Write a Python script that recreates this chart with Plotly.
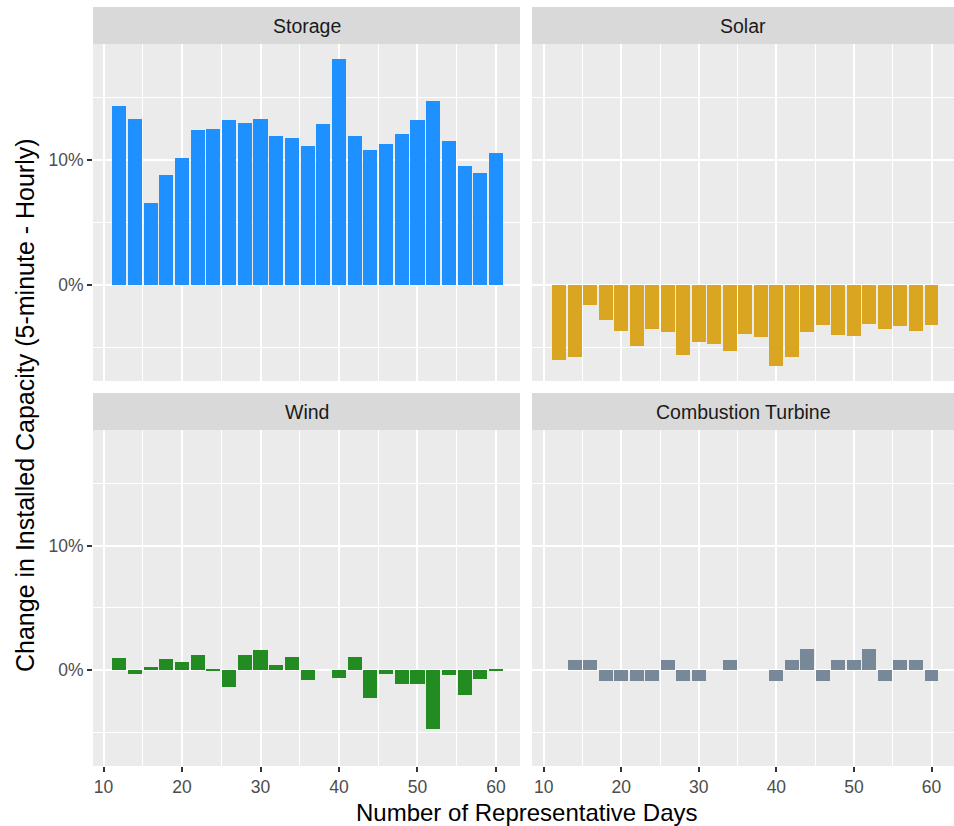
import plotly.graph_objects as go

# ---- data ----
days = [12, 14, 16, 18, 20, 22, 24, 26, 28, 30, 32, 34, 36, 38, 40,
        42, 44, 46, 48, 50, 52, 54, 56, 58, 60]

storage = [14.3, 13.3, 6.6, 8.8, 10.2, 12.4, 12.5, 13.2, 13.0, 13.3, 11.9, 11.8, 11.1,
           12.9, 18.1, 11.9, 10.8, 11.3, 12.1, 13.2, 14.7, 11.5, 9.5, 9.0, 10.6]
solar = [-6.0, -5.8, -1.6, -2.8, -3.7, -4.9, -3.5, -3.8, -5.6, -4.6, -4.7, -5.3, -3.9,
         -4.2, -6.5, -5.8, -3.8, -3.2, -4.0, -4.1, -3.1, -3.5, -3.3, -3.7, -3.2]
wind = [0.97, -0.32, 0.29, 0.91, 0.67, 1.21, 0.03, -1.34, 1.18, 1.61, 0.38, 1.07, -0.75,
        0.0, -0.64, 1.07, -2.25, -0.32, -1.10, -1.10, -4.69, -0.40, -1.96, -0.72, 0.13]
combustion = [0.0, 0.85, 0.85, -0.85, -0.85, -0.85, -0.85, 0.85, -0.85, -0.85, 0.0, 0.85, 0.0,
              0.0, -0.85, 0.85, 1.7, -0.85, 0.85, 0.85, 1.7, -0.85, 0.85, 0.85, -0.85]

panels = ["Storage", "Solar", "Wind", "Combustion Turbine"]
colors = ["#1E90FF", "#DAA520", "#228B22", "#778899"]
series = [storage, solar, wind, combustion]

y_tickvals = [0, 10]
y_ticktext = ["0%", "10%"]
x_tickvals = [10, 20, 30, 40, 50, 60]

# ---- layout geometry (paper fractions) ----
W, H = 954, 826
ml, mr, mt, mb = 93, 0, 7, 60
pw, ph = W - ml - mr, H - mt - mb

def px_x(p):
    return (p - ml) / pw

def px_y(p):
    return (H - mb - p) / ph

xdoms = [[px_x(93), px_x(520)], [px_x(532), px_x(954)]]
xranges = [[8.66, 63.06], [8.5, 62.9]]
ydoms = [[px_y(381), px_y(44)], [px_y(766), px_y(430)]]
strip_tops = [px_y(7), px_y(393)]

FONT = "Liberation Sans, Arial, sans-serif"

fig = go.Figure()
for i, (name, col, vals) in enumerate(zip(panels, colors, series)):
    suffix = "" if i == 0 else str(i + 1)
    fig.add_trace(go.Bar(x=days, y=vals, width=1.8, marker=dict(color=col, line=dict(width=0)),
                         xaxis="x" + suffix, yaxis="y" + suffix, name=name, showlegend=False))

layout = dict(
    width=W, height=H,
    margin=dict(l=ml, r=mr, t=mt, b=mb),
    paper_bgcolor="white", plot_bgcolor="#EBEBEB",
    font=dict(family=FONT, color="#4D4D4D"),
    bargap=0,
    shapes=[], annotations=[],
)

for i in range(4):
    r, c = divmod(i, 2)
    suffix = "" if i == 0 else str(i + 1)
    bottom = r == 1
    left = c == 0
    layout["xaxis" + suffix] = dict(
        domain=xdoms[c], anchor="y" + suffix, range=xranges[c],
        tickvals=x_tickvals, showticklabels=bottom,
        ticks="outside" if bottom else "", ticklen=5, tickwidth=1.5, tickcolor="#333333",
        tickfont=dict(size=17.5, color="#4D4D4D"),
        showgrid=True, gridcolor="white", gridwidth=1.6, zeroline=False, showline=False,
        minor=dict(tickvals=[15, 25, 35, 45, 55], showgrid=True, gridcolor="white", gridwidth=0.8, ticks=""),
        fixedrange=True,
    )
    layout["yaxis" + suffix] = dict(
        domain=ydoms[r], anchor="x" + suffix, range=[-7.7, 19.3],
        tickvals=y_tickvals, ticktext=y_ticktext, showticklabels=left,
        ticks="outside" if left else "", ticklen=5, tickwidth=1.5, tickcolor="#333333",
        tickfont=dict(size=17.5, color="#4D4D4D"),
        showgrid=True, gridcolor="white", gridwidth=1.6, zeroline=False, showline=False,
        minor=dict(tickvals=[-5, 5, 15], showgrid=True, gridcolor="white", gridwidth=0.8, ticks=""),
        fixedrange=True,
    )
    # strip
    layout["shapes"].append(dict(type="rect", xref="paper", yref="paper",
                                 x0=xdoms[c][0], x1=xdoms[c][1], y0=ydoms[r][1], y1=strip_tops[r],
                                 fillcolor="#D9D9D9", line=dict(width=0), layer="below"))
    layout["annotations"].append(dict(text=panels[i], xref="paper", yref="paper",
                                      x=(xdoms[c][0] + xdoms[c][1]) / 2,
                                      y=(ydoms[r][1] + strip_tops[r]) / 2,
                                      xanchor="center", yanchor="middle", showarrow=False,
                                      font=dict(size=19.5, color="#1A1A1A", family=FONT)))

layout["annotations"].append(dict(text="Number of Representative Days", xref="paper", yref="paper",
                                  x=px_x(526), y=px_y(812), xanchor="center", yanchor="middle",
                                  showarrow=False, font=dict(size=24, color="black", family=FONT)))
layout["annotations"].append(dict(text="Change in Installed Capacity (5-minute - Hourly)",
                                  xref="paper", yref="paper", x=px_x(25), y=px_y(405),
                                  xanchor="center", yanchor="middle", textangle=-90,
                                  showarrow=False, font=dict(size=25, color="black", family=FONT)))

fig.update_layout(**layout)
fig.write_html("out.html", config={"displayModeBar": False},
               post_script="document.body.style.margin='0px';")
